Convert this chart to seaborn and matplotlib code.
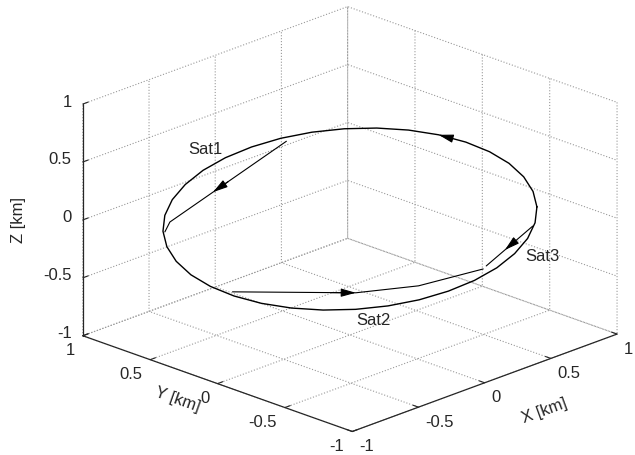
import numpy as np
import matplotlib
matplotlib.use("Agg")
import matplotlib.pyplot as plt
import seaborn as sns
from matplotlib.patches import FancyArrowPatch
from mpl_toolkits.mplot3d import proj3d

# reference orbit, one point every 10 deg
orbit_x = [0.700, 0.807, 0.890, 0.946, 0.973, 0.971, 0.939, 0.878, 0.791, 0.680,
           0.548, 0.400, 0.239, 0.071, -0.099, -0.266, -0.425, -0.571,
           -0.700, -0.807, -0.890, -0.946, -0.973, -0.971, -0.939, -0.878, -0.791, -0.680,
           -0.548, -0.400, -0.239, -0.071, 0.099, 0.266, 0.425, 0.571]
orbit_y = [-0.700, -0.566, -0.415, -0.251, -0.080, 0.094, 0.265, 0.428, 0.578, 0.710,
           0.821, 0.907, 0.965, 0.994, 0.993, 0.961, 0.901, 0.813,
           0.700, 0.566, 0.415, 0.251, 0.080, -0.094, -0.265, -0.428, -0.578, -0.710,
           -0.821, -0.907, -0.965, -0.994, -0.993, -0.961, -0.901, -0.813]
orbit_z = [0.100, 0.133, 0.162, 0.187, 0.205, 0.217, 0.223, 0.222, 0.214, 0.200,
           0.180, 0.154, 0.123, 0.089, 0.052, 0.013, -0.026, -0.064,
           -0.100, -0.133, -0.162, -0.187, -0.205, -0.217, -0.223, -0.222, -0.214, -0.200,
           -0.180, -0.154, -0.123, -0.089, -0.052, -0.013, 0.026, 0.064]

# satellite tracks
sat1_x = [0.395, -0.606, -0.699]
sat1_y = [0.860, 0.741, 0.687]
sat1_z = [0.150, -0.077, -0.101]

sat2_x = [-0.943, -0.551, -0.294, 0.046]
sat2_y = [-0.055, -0.585, -0.798, -0.944]
sat2_z = [-0.209, -0.163, -0.123, -0.060]

sat3_x = [0.538, 0.079]
sat3_y = [-0.828, -0.934]
sat3_z = [0.055, -0.052]

labels = ["Sat1", "Sat2", "Sat3"]
label_x = [-0.112, -0.709, 0.486]
label_y = [0.963, -0.873, -0.952]
label_z = [0.250, -0.218, -0.130]

ticks = [-1, -0.5, 0, 0.5, 1]
tick_labels = ["-1", "-0.5", "0", "0.5", "1"]


class Arrow3D(FancyArrowPatch):
    def __init__(self, xs, ys, zs, *args, **kwargs):
        super().__init__((0, 0), (0, 0), *args, **kwargs)
        self._verts3d = xs, ys, zs

    def do_3d_projection(self, renderer=None):
        xs, ys, zs = proj3d.proj_transform(*self._verts3d, self.axes.M)
        self.set_positions((xs[0], ys[0]), (xs[1], ys[1]))
        return np.min(zs)


def head_on(ax, xs, ys, zs, seg, f_tip, f_tail):
    p0 = np.array([xs[seg], ys[seg], zs[seg]])
    p1 = np.array([xs[seg + 1], ys[seg + 1], zs[seg + 1]])
    a = p0 + f_tail * (p1 - p0)
    b = p0 + f_tip * (p1 - p0)
    ax.add_artist(Arrow3D([a[0], b[0]], [a[1], b[1]], [a[2], b[2]],
                          arrowstyle="-|>,head_length=1.0,head_width=0.28",
                          mutation_scale=9, color="k", lw=0.8,
                          shrinkA=0, shrinkB=0))


sns.set_style("white")
plt.rcParams["font.family"] = ["Liberation Sans", "DejaVu Sans"]

fig = plt.figure(figsize=(6.35, 4.55), dpi=100)
S = 440
cx, cy = 344, 455 - 225
ax = fig.add_axes([(cx - S / 2) / 635, (cy - S / 2) / 455, S / 635, S / 455],
                  projection="3d")

ax.plot(orbit_x + orbit_x[:1], orbit_y + orbit_y[:1], orbit_z + orbit_z[:1],
        color="k", lw=1.0)
ax.plot(sat1_x, sat1_y, sat1_z, color="k", lw=0.8)
ax.plot(sat2_x, sat2_y, sat2_z, color="k", lw=0.8)
ax.plot(sat3_x, sat3_y, sat3_z, color="k", lw=0.8)

head_on(ax, orbit_x, orbit_y, orbit_z, 5, 1.0, 0.6)
head_on(ax, sat1_x, sat1_y, sat1_z, 0, 0.63, 0.5)
head_on(ax, sat2_x, sat2_y, sat2_z, 0, 1.0, 0.8)
head_on(ax, sat3_x, sat3_y, sat3_z, 0, 0.6, 0.4)

for t, x, y, z in zip(labels, label_x, label_y, label_z):
    ax.text(x, y, z, t, fontsize=12, ha="center", va="center")

ax.set_xlim(-1, 1)
ax.set_ylim(-1, 1)
ax.set_zlim(-1, 1)
for axis in (ax.xaxis, ax.yaxis, ax.zaxis):
    axis.set_ticks(ticks)
    axis.set_ticklabels([])
    axis.set_pane_color((1, 1, 1, 0))
    axis.pane.set_edgecolor("0.6")
    axis.pane.set_linestyle(":")
    axis._axinfo["grid"].update(color="0.6", linestyle=":", linewidth=0.8)
    axis._axinfo["tick"]["inward_factor"] = 0.0
    axis._axinfo["tick"]["outward_factor"] = 0.25
    axis.line.set_color("0.15")
    axis.line.set_linewidth(0.9)

ax.set_proj_type("ortho")
ax.view_init(elev=21.2, azim=-135.5)
ax.set_box_aspect((1.52, 1.52, 1), zoom=1.30)

# tick labels and axis titles placed MATLAB-like next to the projected axes
fig.canvas.draw()
M = ax.get_proj()


def proj(x, y, z):
    xs, ys, _ = proj3d.proj_transform(x, y, z, M)
    return float(xs), float(ys)


def put(text, xyz, off, **kw):
    ax.annotate(text, xy=proj(*xyz), xytext=off, textcoords="offset pixels",
                fontsize=12, annotation_clip=False, **kw)


for v, lbl in zip(ticks, tick_labels):
    put(lbl, (-1, 1, v), (-11, 2), ha="right", va="center")
    put(lbl, (-1, v, -1), (-8, -15), ha="right", va="center")
    put(lbl, (v, -1, -1), (7, -15), ha="left", va="center")

put("Z [km]", (-1, 1, 0), (-64, 0), ha="center", va="center", rotation=90)
put("Y [km]", (-1, 0, -1), (-40, -16), ha="center", va="center", rotation=-19.5)
put("X [km]", (0, -1, -1), (60, -28), ha="center", va="center", rotation=20)

fig.savefig("out.png", dpi=100)
